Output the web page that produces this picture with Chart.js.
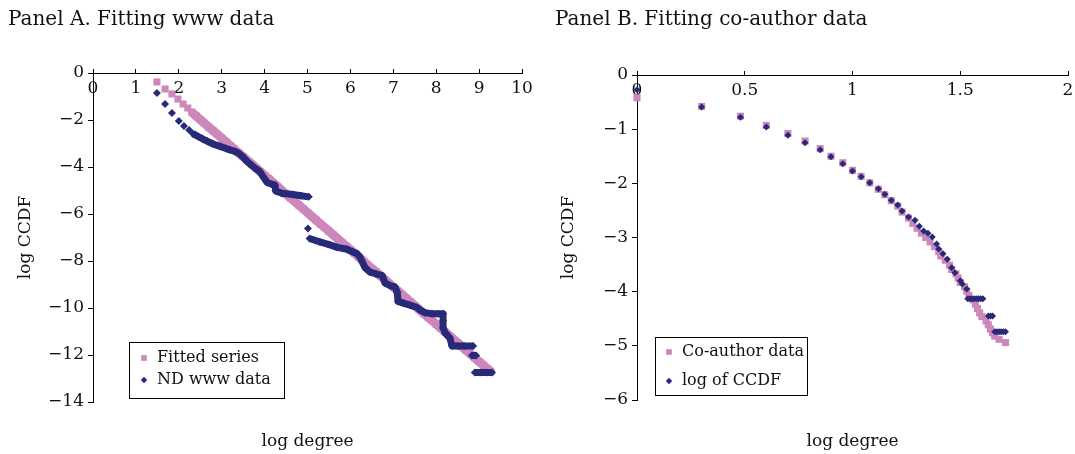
<!DOCTYPE html>
<html>
<head>
<meta charset="utf-8">
<script src="https://cdn.jsdelivr.net/npm/chart.js@4/dist/chart.umd.min.js"></script>
<style>
  body { margin: 0; background: #fff; }
  #wrapA { position: absolute; left: 0; top: 0; }
  #wrapB { position: absolute; left: 540px; top: 0; }
</style>
</head>
<body>
<div id="wrapA"><canvas id="chartA" width="540" height="454"></canvas></div>
<div id="wrapB"><canvas id="chartB" width="535" height="454"></canvas></div>
<script>
// Panel A: fitted straight line (log degree, log CCDF); null = no joining stroke
const fitX = [1.49, null, 1.68, null, 1.84, null, 1.98, null, 2.10, null, 2.21, null,
  2.3, 2.4, 2.5, 2.6, 2.7, 2.8, 2.9, 3.0, 3.1, 3.2, 3.3, 3.4, 3.5, 3.6, 3.7, 3.8, 3.9,
  4.0, 4.1, 4.2, 4.3, 4.4, 4.5, 4.6, 4.7, 4.8, 4.9, 5.0, 5.1, 5.2, 5.3, 5.4, 5.5, 5.6,
  5.7, 5.8, 5.9, 6.0, 6.1, 6.2, 6.3, 6.4, 6.5, 6.6, 6.7, 6.8, 6.9, 7.0, 7.1, 7.2, 7.3,
  7.4, 7.5, 7.6, 7.7, 7.8, 7.9, 8.0, 8.1, 8.2, 8.3, 8.4, 8.5, 8.6, 8.7, 8.8, 8.9, 9.0,
  9.1, 9.2, 9.28];
const fitY = [-0.38, null, -0.68, null, -0.89, null, -1.11, null, -1.32, null, -1.49, null,
  -1.66, -1.82, -1.98, -2.14, -2.30, -2.46, -2.61, -2.77, -2.93, -3.09, -3.25, -3.41, -3.56, -3.72, -3.88, -4.04, -4.20,
  -4.36, -4.51, -4.67, -4.83, -4.99, -5.15, -5.31, -5.46, -5.62, -5.78, -5.94, -6.10, -6.26, -6.42, -6.57, -6.73, -6.89,
  -7.05, -7.21, -7.37, -7.52, -7.68, -7.84, -8.00, -8.16, -8.32, -8.47, -8.63, -8.79, -8.95, -9.11, -9.27, -9.42, -9.58,
  -9.74, -9.90, -10.06, -10.22, -10.38, -10.53, -10.69, -10.85, -11.01, -11.17, -11.33, -11.48, -11.64, -11.80, -11.96, -12.12, -12.28,
  -12.43, -12.59, -12.72];

// Panel A: ND www data (null = gap in the trace)
const wwwX = [1.49, null, 1.68, null, 1.84, null, 2.00, null, 2.12, null, 2.24, null,
  2.33, 2.45, 2.55, 2.66, 2.80, 2.96, 3.10, 3.19, 3.30, 3.40, 3.50, 3.59, 3.70, 3.80, 3.89, 3.97,
  4.06, 4.15, 4.24, 4.26, 4.40, 4.66, 4.85, 5.03, null,
  5.01, null,
  5.05, 5.29, 5.50, 5.69, 5.92, 6.06, 6.15, 6.22, 6.34, 6.46, 6.60, 6.74, 6.81, 6.93, 7.04, 7.09,
  7.11, 7.25, 7.39, 7.55, 7.62, 7.74, 7.90, 8.05, 8.16, 8.16, 8.16, 8.21, 8.32, 8.37, 8.50, 8.65, 8.86, null,
  8.83, 8.93, null,
  8.90, 9.05, 9.18, 9.30];
const wwwY = [-0.85, null, -1.32, null, -1.70, null, -2.04, null, -2.26, null, -2.43, null,
  -2.58, -2.70, -2.80, -2.90, -3.02, -3.12, -3.21, -3.27, -3.33, -3.42, -3.58, -3.76, -3.93, -4.08, -4.20, -4.42,
  -4.66, -4.72, -4.77, -5.02, -5.12, -5.17, -5.22, -5.27, null,
  -6.62, null,
  -7.04, -7.19, -7.30, -7.42, -7.50, -7.62, -7.68, -7.83, -8.28, -8.47, -8.55, -8.62, -8.94, -9.05, -9.11, -9.32,
  -9.72, -9.80, -9.88, -9.98, -10.08, -10.20, -10.24, -10.24, -10.24, -10.55, -10.85, -11.06, -11.28, -11.62, -11.62, -11.62, -11.62, null,
  -12.02, -12.02, null,
  -12.74, -12.74, -12.74, -12.74];

// Panel B: co-author data
const coX = [0, 0.30, 0.48, 0.60, 0.70, 0.78, 0.85, 0.90, 0.955, 1.00, 1.04, 1.08, 1.12, 1.15, 1.18,
  1.21, 1.23, 1.26, 1.28, 1.30, 1.32, 1.34, 1.36, 1.38, 1.40, 1.41, 1.43, 1.45, 1.46, 1.48, 1.49,
  1.50, 1.52, 1.53, 1.54, 1.56, 1.57, 1.58, 1.59, 1.60, 1.62, 1.63, 1.64, 1.65, 1.66, 1.68, 1.71];
const coY = [-0.42, -0.58, -0.76, -0.93, -1.08, -1.22, -1.36, -1.50, -1.62, -1.76, -1.87, -1.99, -2.11, -2.21, -2.32,
  -2.42, -2.53, -2.64, -2.74, -2.83, -2.92, -3.00, -3.08, -3.17, -3.26, -3.34, -3.42, -3.51, -3.59, -3.67, -3.75,
  -3.83, -3.91, -3.99, -4.07, -4.15, -4.23, -4.31, -4.39, -4.46, -4.54, -4.61, -4.69, -4.76, -4.82, -4.88, -4.94];

// Panel B: log of CCDF
const ccdfX = [0, 0.30, 0.48, 0.60, 0.70, 0.78, 0.85, 0.90, 0.955, 1.00, 1.04, 1.08, 1.12, 1.15, 1.18,
  1.21, 1.23, 1.26, 1.29, 1.31, 1.33, 1.35, 1.37, 1.39, 1.40, 1.42, 1.44, 1.46, 1.475, 1.50, 1.51, 1.53,
  1.535, 1.545, 1.555, 1.565, 1.575, 1.585, 1.595, 1.605,
  1.63, 1.64, 1.65,
  1.66, 1.67, 1.68, 1.69, 1.70, 1.71];
const ccdfY = [-0.27, -0.59, -0.78, -0.96, -1.11, -1.25, -1.38, -1.51, -1.64, -1.77, -1.88, -1.99, -2.10, -2.20, -2.31,
  -2.40, -2.51, -2.62, -2.68, -2.79, -2.88, -2.92, -2.99, -3.12, -3.21, -3.30, -3.40, -3.56, -3.65, -3.80, -3.86, -3.95,
  -4.13, -4.13, -4.13, -4.13, -4.13, -4.13, -4.13, -4.13,
  -4.45, -4.45, -4.45,
  -4.74, -4.74, -4.74, -4.74, -4.74, -4.74];

const xTicksA = [0, 1, 2, 3, 4, 5, 6, 7, 8, 9, 10];
const yTicksA = [0, -2, -4, -6, -8, -10, -12, -14];
const xTicksB = [0, 0.5, 1, 1.5, 2];
const yTicksB = [0, -1, -2, -3, -4, -5, -6];

const PINK = '#cd87bb';
const NAVY = '#29297a';
const FONT = "'DejaVu Serif', 'Liberation Serif', serif";

function toPoints(xs, ys) {
  return xs.map((x, i) => ({ x: x, y: ys[i] }));
}

function minusLabel(v) {
  return v < 0 ? '\u2212' + Math.abs(v) : String(v);
}

// legend drawn inside the plot with a black frame
const boxLegend = {
  id: 'boxLegend',
  afterDraw(chart, args, opts) {
    const ctx = chart.ctx;
    ctx.save();
    ctx.fillStyle = '#fff';
    ctx.fillRect(opts.x, opts.y, opts.w, opts.h);
    ctx.strokeStyle = '#000';
    ctx.lineWidth = 1;
    ctx.strokeRect(opts.x + 0.5, opts.y + 0.5, opts.w, opts.h);
    ctx.font = '16px ' + FONT;
    ctx.textBaseline = 'middle';
    chart.data.datasets.forEach((ds, i) => {
      const y = opts.rows[i];
      ctx.fillStyle = ds.backgroundColor;
      Chart.helpers.drawPoint(ctx, {
        pointStyle: ds.pointStyle, radius: opts.markers[i], rotation: 0, borderWidth: 0
      }, opts.markerX, y);
      ctx.fillStyle = '#111';
      ctx.fillText(ds.label, opts.textX, y);
    });
    ctx.restore();
  }
};

function panelOptions(p) {
  const tickFont = { family: FONT, size: 17 };
  return {
    responsive: false,
    animation: false,
    layout: { padding: { left: p.padLeft, right: p.padRight, top: 0, bottom: 0 } },
    plugins: {
      legend: { display: false },
      tooltip: { enabled: false },
      title: {
        display: true, text: p.title, align: 'start', color: '#111',
        font: { family: FONT, size: 20, weight: 'normal' },
        padding: { top: 8, bottom: p.titleGap }
      },
      boxLegend: p.legend
    },
    scales: {
      x: {
        type: 'linear', position: { y: 0 }, min: p.xTicks[0], max: p.xTicks[p.xTicks.length - 1],
        afterBuildTicks: s => { s.ticks = p.xTicks.map(v => ({ value: v })); },
        afterFit: s => { s.paddingLeft = 0; s.paddingRight = 0; },
        grid: { drawOnChartArea: false, tickLength: -5, tickColor: '#000' },
        border: { color: '#000' },
        ticks: { padding: 10, color: '#111', font: tickFont, autoSkip: false, maxRotation: 0, callback: minusLabel }
      },
      y: {
        type: 'linear', position: 'left', min: p.yTicks[p.yTicks.length - 1], max: 0,
        afterBuildTicks: s => { s.ticks = p.yTicks.map(v => ({ value: v })); },
        afterFit: s => { s.width = p.yWidth; },
        grid: { drawOnChartArea: false, tickLength: 5, tickColor: '#000' },
        border: { color: '#000' },
        ticks: { padding: 4, color: '#111', font: tickFont, autoSkip: false, callback: minusLabel },
        title: { display: true, text: 'log CCDF', color: '#111', font: { family: FONT, size: 17 }, padding: { top: p.yTitlePad, bottom: 0 } }
      },
      x2: {
        type: 'linear', position: 'bottom', min: 0, max: 1,
        afterFit: s => { s.height = p.bottomH; },
        grid: { display: false },
        border: { display: false },
        ticks: { display: false },
        title: { display: true, text: 'log degree', color: '#111', font: { family: FONT, size: 17 }, padding: { top: 0, bottom: 2 } }
      }
    }
  };
}

new Chart(document.getElementById('chartA'), {
  type: 'scatter',
  data: {
    datasets: [
      {
        label: 'Fitted series', data: toPoints(fitX, fitY), order: 2, clip: false,
        showLine: true, spanGaps: false, borderWidth: 9, borderCapStyle: 'butt',
        pointStyle: 'rect', pointRadius: 5, pointBorderWidth: 0,
        backgroundColor: PINK, borderColor: PINK
      },
      {
        label: 'ND www data', data: toPoints(wwwX, wwwY), order: 1, clip: false,
        showLine: true, spanGaps: false, borderWidth: 7, borderCapStyle: 'butt', borderJoinStyle: 'round',
        pointStyle: 'rectRot', pointRadius: 4, pointBorderWidth: 0,
        backgroundColor: NAVY, borderColor: NAVY
      }
    ]
  },
  options: panelOptions({
    title: 'Panel A. Fitting www data', padLeft: 8, padRight: 18, titleGap: 41,
    yWidth: 85, yTitlePad: 7, bottomH: 52, xTicks: xTicksA, yTicks: yTicksA,
    legend: { x: 129, y: 342, w: 155, h: 56, rows: [358, 380], markerX: 144, textX: 157, markers: [4, 3.2] }
  }),
  plugins: [boxLegend]
});

new Chart(document.getElementById('chartB'), {
  type: 'scatter',
  data: {
    datasets: [
      {
        label: 'Co-author data', data: toPoints(coX, coY), order: 2, clip: false,
        pointStyle: 'rect', pointRadius: 5, pointBorderWidth: 0,
        backgroundColor: PINK, borderColor: PINK
      },
      {
        label: 'log of CCDF', data: toPoints(ccdfX, ccdfY), order: 1, clip: false,
        pointStyle: 'rectRot', pointRadius: 3.5, pointBorderWidth: 0,
        backgroundColor: NAVY, borderColor: NAVY
      }
    ]
  },
  options: panelOptions({
    title: 'Panel B. Fitting co-author data', padLeft: 15, padRight: 7, titleGap: 43,
    yWidth: 82, yTitlePad: 3, bottomH: 54, xTicks: xTicksB, yTicks: yTicksB,
    legend: { x: 115, y: 337, w: 152, h: 58, rows: [352, 381], markerX: 129, textX: 142, markers: [4, 3.2] }
  }),
  plugins: [boxLegend]
});
</script>
</body>
</html>
